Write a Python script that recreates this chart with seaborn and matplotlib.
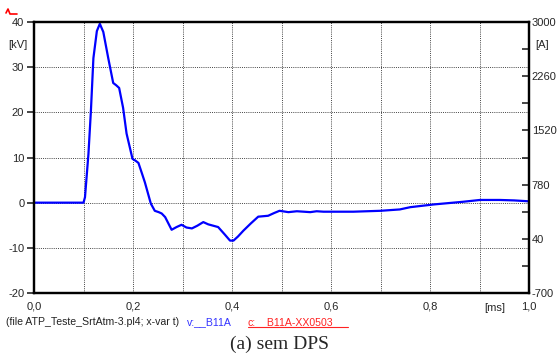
import numpy as np
import pandas as pd
import matplotlib
matplotlib.use("Agg")
import matplotlib.pyplot as plt
import matplotlib.ticker as mticker
import seaborn as sns

# ---- data ----
time_ms = [0.000, 0.100, 0.103, 0.110, 0.115, 0.120, 0.127, 0.133, 0.140, 0.150,
           0.160, 0.166, 0.172, 0.180, 0.187, 0.193, 0.199, 0.205, 0.211, 0.218,
           0.224, 0.236, 0.244, 0.252, 0.258, 0.265, 0.278, 0.288, 0.298, 0.308,
           0.319, 0.330, 0.342, 0.352, 0.362, 0.372, 0.385, 0.396, 0.403, 0.412,
           0.423, 0.438, 0.453, 0.473, 0.485, 0.496, 0.514, 0.531, 0.545, 0.558,
           0.571, 0.585, 0.598, 0.645, 0.700, 0.739, 0.760, 0.807, 0.867, 0.901,
           0.941, 0.970, 1.000]
voltage_kv = [0, 0, 1.2, 10.8, 20.4, 32, 38, 39.6, 37.8, 32,
              26.5, 26, 25.4, 21, 15.3, 12.5, 9.7, 9.3, 8.8, 6.5,
              4.5, -0.2, -1.8, -2.1, -2.4, -3.2, -6.0, -5.4, -4.9, -5.5,
              -5.7, -5.1, -4.3, -4.8, -5.1, -5.4, -7.0, -8.4, -8.4, -7.5,
              -6.2, -4.6, -3.1, -2.9, -2.3, -1.8, -2.1, -1.9, -2.0, -2.1,
              -1.9, -2.0, -2.0, -2.0, -1.8, -1.5, -1.0, -0.4, 0.2, 0.6,
              0.6, 0.5, 0.3]

left_ticks = [-20, -10, 0, 10, 20, 30, 40]
right_ticks = [-700, 40, 780, 1520, 2260, 3000]
x_ticks = [0.0, 0.2, 0.4, 0.6, 0.8, 1.0]
x_tick_labels = ["0,0", "0,2", "0,4", "0,6", "0,8", "1,0"]

df = pd.DataFrame({"t": time_ms, "v": voltage_kv})

sns.set_style("white")
plt.rcParams['font.family'] = ['Liberation Sans', 'DejaVu Sans']

fig = plt.figure(figsize=(5.58, 3.54), dpi=100)
ax = fig.add_axes([34/558, 1-293/354, (529-34)/558, (293-22)/354])

sns.lineplot(data=df, x="t", y="v", ax=ax, color="#0000ff", linewidth=1.6)

ax.set_xlim(0, 1.0)
ax.set_ylim(-20, 40)
ax.set_xlabel("")
ax.set_ylabel("")

fs = 8
ax.set_yticks(left_ticks)
ax.set_yticklabels([str(v) for v in left_ticks], fontsize=fs)
ax.set_xticks(x_ticks)
ax.set_xticklabels(x_tick_labels, fontsize=fs)
ax.xaxis.set_minor_locator(mticker.MultipleLocator(0.1))

ax.tick_params(axis="y", which="major", direction="out", length=5, width=1.2, pad=2)
ax.tick_params(axis="x", which="both", direction="inout", length=6, width=1.2, pad=3)

# grid
for xv in np.arange(0.1, 1.0, 0.1):
    ax.axvline(xv, color="#444444", linewidth=0.7, linestyle=(0, (1, 1.2)), zorder=0)
for yv in left_ticks[1:-1]:
    ax.axhline(yv, color="#444444", linewidth=0.7, linestyle=(0, (1, 1.2)), zorder=0)

for s in ax.spines.values():
    s.set_linewidth(1.6)
    s.set_color("black")

# right axis
ax2 = ax.twinx()
ax2.set_ylim(-700, 3000)
ax2.set_yticks(right_ticks)
ax2.set_yticklabels([str(v) for v in right_ticks], fontsize=fs)
ax2.set_yticks(np.arange(-700 + 370, 3000, 740), minor=True)
ax2.tick_params(axis="y", which="both", direction="in", length=5, width=1.2, pad=2)
for s in ax2.spines.values():
    s.set_linewidth(1.6)
    s.set_color("black")

# unit labels
fig.text(8/558, 1-45/354, "[kV]", fontsize=fs, ha="left", va="center")
fig.text(535/558, 1-45/354, "[A]", fontsize=fs, ha="left", va="center")
fig.text(495/558, 1-308/354, "[ms]", fontsize=fs, ha="center", va="center")

# footer
fy = 1-322/354
ffs = 7.6
fig.text(6/558, fy, "(file ATP_Teste_SrtAtm-3.pl4; x-var t)", fontsize=ffs,
         ha="left", va="center", color="#222222")
fig.text(187/558, fy, "v:__B11A", fontsize=ffs, ha="left", va="center", color="#3333ff")
fig.text(248/558, fy, "c:__B11A-XX0503", fontsize=ffs, ha="left", va="center", color="#ff2222")
fig.add_artist(plt.Line2D([248/558, 348/558], [1-327/354, 1-327/354], color="#ff2222", linewidth=0.8))

# caption
fig.text(279/558, 1-344/354, "(a) sem DPS", fontsize=14, ha="center", va="center",
         family=["Liberation Serif", "DejaVu Serif"])

# red marker top left
fig.add_artist(plt.Line2D([6/558, 8/558, 10/558, 17/558],
                          [1-13/354, 1-9/354, 1-14/354, 1-14/354],
                          color="#ff0000", linewidth=1.2))

fig.savefig("out.png", dpi=100)
